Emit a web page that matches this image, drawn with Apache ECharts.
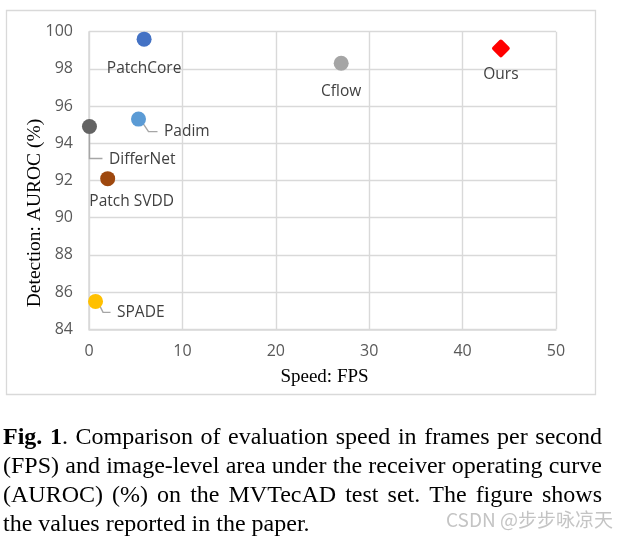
<!DOCTYPE html>
<html>
<head>
<meta charset="utf-8">
<script src="https://cdn.jsdelivr.net/npm/echarts@6/dist/echarts.min.js"></script>
<style>
html,body{margin:0;padding:0;background:#fff;}
#c{width:632px;height:539px;}
</style>
</head>
<body>
<div id="c"></div>
<script>
// ---- data ----
const methods = ['PatchCore', 'Padim', 'DifferNet', 'Patch SVDD', 'SPADE', 'Cflow', 'Ours'];
const fps     = [5.9, 5.3, 0.05, 2.0, 0.7, 27.0, 44.1];
const auroc   = [99.6, 95.3, 94.9, 92.1, 85.5, 98.3, 99.1];
const colors  = ['#4472C4', '#5B9BD5', '#636363', '#9E480E', '#FFC000', '#A5A5A5', '#FF0000'];
const xTicks  = [0, 10, 20, 30, 40, 50];
const yTicks  = [84, 86, 88, 90, 92, 94, 96, 98, 100];
const xName = 'Speed: FPS';
const yName = 'Detection: AUROC (%)';
const captionBold = 'Fig. 1';
const captionLines = [
  '. Comparison of evaluation speed in frames per second',
  '(FPS) and image-level area under the receiver operating curve',
  '(AUROC) (%) on the MVTecAD test set.  The figure shows',
  'the values reported in the paper.'
];
const watermark = 'CSDN @步步咏凉天';

// ---- label placement (style only) ----
const labelCfg = {
  'PatchCore':  {position: 'bottom', distance: 14},
  'Padim':      {position: 'right', distance: 18, offset: [0, 12.5], leader: [[5, 5], [10, 12.5], [19, 12.5]]},
  'DifferNet':  {position: 'right', distance: 12, offset: [0, 33], leader: [[0, 7.5], [0, 32], [13, 32]]},
  'Patch SVDD': {position: 'bottom', distance: 7, offset: [24, 0]},
  'SPADE':      {position: 'right', distance: 14, offset: [0, 11.5], leader: [[4.5, 5], [7.5, 11], [15, 11]]},
  'Cflow':      {position: 'bottom', distance: 13},
  'Ours':       {position: 'bottom', distance: 9}
};

const diamondPath = 'path://M8.6,1.4 Q10,0 11.4,1.4 L18.6,8.6 Q20,10 18.6,11.4 L11.4,18.6 Q10,20 8.6,18.6 L1.4,11.4 Q0,10 1.4,8.6 Z';
const labelFont = {fontFamily: 'Open Sans', fontSize: 15.5, color: '#404040'};

const seriesData = methods.map((m, i) => {
  const c = labelCfg[m];
  return {
    name: m,
    value: [fps[i], auroc[i]],
    symbol: m === 'Ours' ? diamondPath : 'circle',
    symbolSize: m === 'Ours' ? 18 : 15,
    itemStyle: {color: colors[i], opacity: 1},
    label: Object.assign({
      show: true,
      formatter: m,
      position: c.position,
      distance: c.distance,
      offset: c.offset || [0, 0]
    }, labelFont)
  };
});

const chart = echarts.init(document.getElementById('c'), null, {renderer: 'canvas'});

const gridLeft = 89, gridTop = 31.7, gridRight = 76, gridBottom = 209.7;

// caption justification helper (layout only)
const measureCtx = document.createElement('canvas').getContext('2d');
function textW(str, font) { measureCtx.font = font; return measureCtx.measureText(str).width; }
const capFont = '24px "Liberation Serif"';
const capBold = 'bold 24px "Liberation Serif"';
const capLeft = 3, capRight = 602;
const capCenters = [437.5, 466.5, 495.5, 524.5];

function captionGraphics() {
  const out = [];
  captionLines.forEach((line, li) => {
    // tokens: array of parts [{t, bold}]
    let tokens = line.trim().split(/\s+/).map(w => [{t: w, bold: false}]);
    if (li === 0) {
      const firstDot = tokens.shift(); // '.'
      tokens = [[{t: 'Fig.', bold: true}], [{t: '1', bold: true}, {t: '.', bold: false}]].concat(tokens.slice(0));
      // remove the leading '.' that belonged to 'Fig. 1'
      if (tokens[2] && tokens[2][0].t === 'Comparison') { /* ok */ }
    }
    const widths = tokens.map(parts => parts.reduce((s, p) => s + textW(p.t, p.bold ? capBold : capFont), 0));
    const total = widths.reduce((a, b) => a + b, 0);
    const justify = li < captionLines.length - 1;
    const gap = justify ? (capRight - capLeft - total) / (tokens.length - 1) : textW(' ', capFont);
    let x = capLeft;
    tokens.forEach((parts, ti) => {
      let px = x;
      parts.forEach(p => {
        out.push({type: 'text', x: px, y: capCenters[li], silent: true,
          style: {text: p.t, font: p.bold ? capBold : capFont, fill: '#000', textVerticalAlign: 'middle'}});
        px += textW(p.t, p.bold ? capBold : capFont);
      });
      x += widths[ti] + gap;
    });
  });
  return out;
}

chart.setOption({
  backgroundColor: '#fff',
  animation: false,
  grid: {left: gridLeft, top: gridTop, right: gridRight, bottom: gridBottom, containLabel: false},
  xAxis: {
    type: 'value', min: xTicks[0], max: xTicks[xTicks.length - 1], interval: xTicks[1] - xTicks[0],
    axisLine: {show: true, lineStyle: {color: '#d9d9d9', width: 1.5}},
    axisTick: {show: false},
    axisLabel: {margin: 14, fontFamily: 'Open Sans', fontSize: 16, color: '#595959'},
    splitLine: {show: true, lineStyle: {color: '#d9d9d9', width: 1.4}}
  },
  yAxis: {
    type: 'value', min: yTicks[0], max: yTicks[yTicks.length - 1], interval: yTicks[1] - yTicks[0],
    axisLine: {show: true, lineStyle: {color: '#d9d9d9', width: 1.5}},
    axisTick: {show: false},
    axisLabel: {margin: 16, fontFamily: 'Open Sans', fontSize: 16, color: '#595959'},
    splitLine: {show: true, lineStyle: {color: '#d9d9d9', width: 1.4}}
  },
  series: [{
    type: 'scatter',
    data: seriesData,
    z: 5
  }],
  graphic: [
    {type: 'rect', shape: {x: 6.5, y: 10.5, width: 589, height: 384}, style: {fill: 'none', stroke: '#d9d9d9', lineWidth: 1.3}, z: -1, silent: true},
    {type: 'text', x: 324.5, y: 377, style: {text: xName, font: '19px "Liberation Serif"', fill: '#000', textAlign: 'center', textVerticalAlign: 'middle'}},
    {type: 'text', x: 35, y: 213, rotation: Math.PI / 2, style: {text: yName, font: '19.5px "Liberation Serif"', fill: '#000', textAlign: 'center', textVerticalAlign: 'middle'}},
    {type: 'text', x: 446, y: 520, style: {text: watermark, font: '19px "Noto Sans CJK SC"', fill: '#c4c4c4', textVerticalAlign: 'middle'}}
  ].concat(captionGraphics())
});

// leader lines anchored at the data points' pixel positions
const leaders = [];
methods.forEach((m, i) => {
  const c = labelCfg[m];
  if (!c.leader) return;
  const p = chart.convertToPixel({seriesIndex: 0}, [fps[i], auroc[i]]);
  leaders.push({
    type: 'polyline', z: 4, silent: true,
    shape: {points: c.leader.map(d => [p[0] + d[0], p[1] + d[1]])},
    style: {stroke: '#a6a6a6', lineWidth: 1.4, fill: 'none'}
  });
});
chart.setOption({graphic: leaders.map((g, k) => Object.assign({id: 'leader' + k}, g))});
</script>
</body>
</html>
